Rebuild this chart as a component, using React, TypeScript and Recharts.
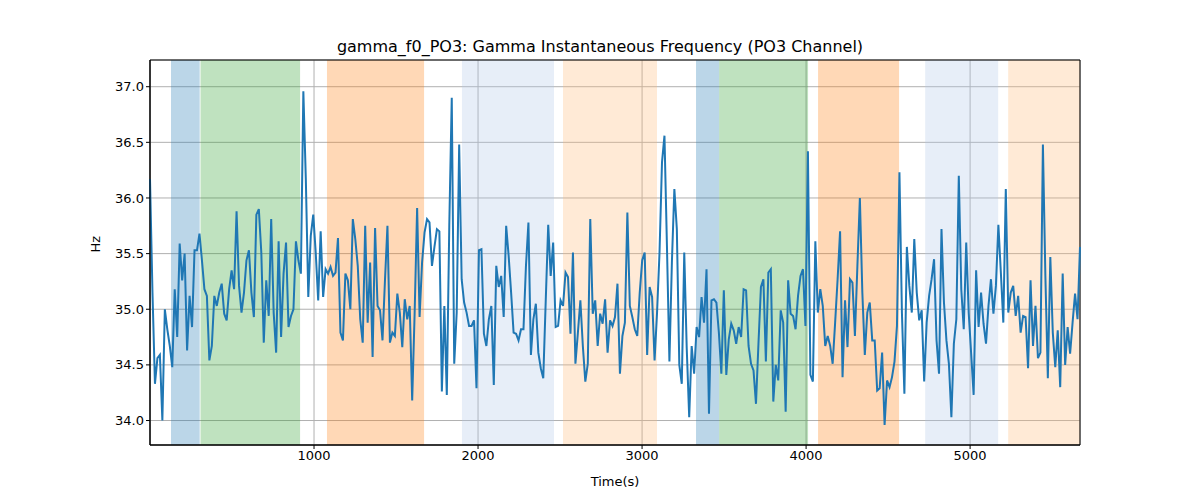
import React from 'react';
import { LineChart, Line, XAxis, YAxis, CartesianGrid, ReferenceArea } from 'recharts';

const hz: number[] = [
36.17,35.15,34.33,34.56,34.59,34.00,35.00,34.82,34.67,34.48,35.18,34.75,35.59,35.26,35.50,34.63,35.12,34.84,35.53,35.53,35.68,35.44,35.18,35.12,34.54,34.67,35.12,35.03,35.15,35.23,34.96,34.90,35.18,35.35,35.18,35.88,35.21,34.97,35.15,35.44,35.53,35.15,34.93,35.85,35.90,35.51,34.70,35.26,34.94,35.81,34.97,34.61,35.61,34.75,35.32,35.60,34.84,34.94,35.00,35.61,35.44,35.32,36.96,36.17,35.11,
35.66,35.85,35.51,35.08,35.70,35.11,35.36,35.32,35.38,35.30,35.33,35.64,34.79,34.72,35.32,35.26,35.00,35.81,35.63,35.39,34.91,34.70,35.75,34.88,35.42,34.57,35.73,35.03,34.99,34.72,35.26,35.75,34.70,34.79,34.76,35.14,34.97,34.66,35.09,34.91,35.03,34.18,34.97,35.91,34.93,35.42,35.69,35.81,35.78,35.39,35.56,35.72,35.70,34.26,35.03,34.23,35.75,36.90,34.51,34.97,36.48,35.27,35.06,
34.97,34.85,34.85,34.90,34.29,35.53,35.54,34.78,34.67,34.91,35.03,34.32,35.39,35.20,35.30,34.93,35.75,35.48,35.15,34.79,34.78,34.72,34.82,34.82,35.39,35.78,34.59,34.91,35.05,34.61,34.47,34.38,35.08,35.76,35.30,35.60,34.84,34.85,35.08,35.03,35.33,35.29,34.78,35.51,34.51,34.79,35.08,34.67,34.35,34.51,35.81,34.96,35.08,34.67,34.96,34.87,35.09,34.61,34.90,34.85,34.93,35.23,34.42,
34.76,34.88,35.87,35.03,34.93,34.82,34.76,35.15,35.44,35.51,34.59,35.20,35.11,34.54,34.97,35.51,36.32,36.56,35.57,34.53,35.42,36.08,35.72,34.50,34.33,35.51,34.65,34.03,34.67,34.42,34.84,34.75,35.11,34.88,35.36,34.06,35.08,35.09,35.06,34.79,34.42,35.17,34.41,34.73,34.87,34.81,34.69,34.84,34.75,35.18,35.17,34.67,34.51,34.45,34.15,34.69,35.20,35.27,34.53,35.33,35.36,34.17,
34.50,34.36,34.99,34.88,34.08,35.26,34.96,34.94,34.82,35.12,35.30,35.36,34.85,36.42,34.41,34.35,35.61,34.97,35.18,35.03,34.67,34.76,34.67,34.51,34.88,35.27,35.70,34.39,35.08,34.66,35.27,35.24,34.76,35.39,36.00,35.15,34.59,34.97,35.06,34.72,34.72,34.27,34.29,34.61,33.96,34.36,34.30,34.39,34.53,34.85,36.23,34.97,34.24,35.56,35.21,34.97,35.63,35.15,34.90,34.99,34.35,34.88,35.12,
35.27,35.45,34.72,34.42,35.72,35.06,34.72,34.51,34.03,34.69,34.91,36.20,35.18,34.82,35.60,34.97,34.60,34.23,35.35,34.84,35.15,34.87,34.69,35.03,35.27,34.96,35.21,35.76,35.33,34.88,36.08,34.97,35.15,35.21,34.94,35.12,34.79,34.94,34.93,34.47,35.26,34.67,35.03,34.56,34.61,36.48,35.30,34.38,35.47,34.79,34.48,34.81,34.30,35.32,34.50,34.84,34.60,34.88,35.14,34.91,35.56
];
const tEnd = 5670;
const data = hz.map((v, i) => ({ t: (i * tEnd) / (hz.length - 1), v }));

const bandStarts = [128, 308, 1079, 1902, 2518, 3329, 3470, 4073, 4726, 5232];
const bandEnds = [303, 915, 1671, 2463, 3091, 3470, 4012, 4567, 5171, 5677];
const bandColors = ['#1f77b4', '#2ca02c', '#ff7f0e', '#aec7e8', '#ffbb78', '#1f77b4', '#2ca02c', '#ff7f0e', '#aec7e8', '#ffbb78'];
const xTicks = [1000, 2000, 3000, 4000, 5000];
const yTicks = [34.0, 34.5, 35.0, 35.5, 36.0, 36.5, 37.0];
const yMin = 33.78, yMax = 37.24;

export default function App() {
  const font = 'DejaVu Sans';
  return (
    <div style={{ position: 'absolute', left: 0, top: 0, width: 1200, height: 500, background: '#fff', fontFamily: font }}>
      <div style={{ position: 'absolute', top: 37, width: '100%', textAlign: 'center', fontSize: 16, color: '#000' }}>
        gamma_f0_PO3: Gamma Instantaneous Frequency (PO3 Channel)
      </div>
      <LineChart width={1200} height={500} data={data} margin={{ top: 60, right: 120, bottom: 25, left: 100 }}>
        {bandStarts.map((s, i) => (
          <ReferenceArea key={i} x1={s} x2={Math.min(bandEnds[i], tEnd)} y1={yMin} y2={yMax} fill={bandColors[i]} fillOpacity={0.3} stroke="none" ifOverflow="hidden" />
        ))}
        <CartesianGrid stroke="#b0b0b0" strokeWidth={1} vertical horizontal />
        <XAxis dataKey="t" type="number" domain={[0, tEnd]} ticks={xTicks} height={30} stroke="#000"
          tick={{ fill: '#000', fontSize: 13, fontFamily: font }} tickSize={4}
          label={{ value: 'Time(s)', position: 'insideBottom', offset: -11, fill: '#000', fontSize: 13, fontFamily: font }} />
        <YAxis type="number" domain={[yMin, yMax]} ticks={yTicks} width={50} stroke="#000" allowDataOverflow
          tickFormatter={(v: number) => v.toFixed(1)} tick={{ fill: '#000', fontSize: 13, fontFamily: font }} tickSize={4}
          label={{ value: 'Hz', angle: -90, position: 'insideLeft', offset: -5, fill: '#000', fontSize: 13, fontFamily: font }} />
        <ReferenceArea x1={0} x2={tEnd} y1={yMin} y2={yMax} fill="none" stroke="#000" strokeWidth={1} />
        <Line dataKey="v" stroke="#1f77b4" strokeWidth={2} dot={false} isAnimationActive={false} />
      </LineChart>
    </div>
  );
}
